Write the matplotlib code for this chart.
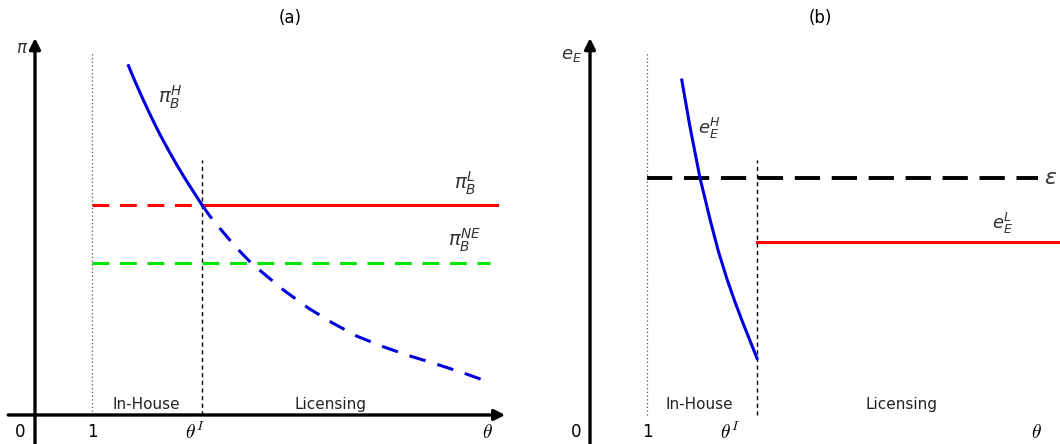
import numpy as np
import matplotlib
matplotlib.use("Agg")
import matplotlib.pyplot as plt

# ---- data (theta on x, profit / effort on y, arbitrary units) ----
theta_one = 1.0
theta_I = 2.93

# panel (a): pi_B^H curve, solid up to theta_I, dashed after
piH_theta_solid = [1.64, 1.75, 1.90, 2.05, 2.19, 2.34, 2.49, 2.63, 2.78, 2.93]
piH_solid = [9.98, 9.55, 9.00, 8.48, 8.02, 7.57, 7.14, 6.76, 6.38, 6.00]
piH_theta_dash = [2.93, 3.07, 3.25, 3.52, 3.80, 4.36, 4.80, 5.23, 5.65, 6.11, 6.55, 6.99, 7.50, 7.98]
piH_dash = [6.00, 5.68, 5.32, 4.80, 4.33, 3.57, 3.05, 2.62, 2.25, 1.95, 1.70, 1.48, 1.21, 0.93]
pi_L = 6.0
pi_NE = 4.34

# panel (b): e_E^H curve, eps level, e_E^L level
eH_theta = [1.61, 1.75, 1.93, 2.11, 2.25, 2.40, 2.55, 2.69, 2.82, 2.93]
eH = [9.57, 8.27, 6.77, 5.56, 4.69, 3.90, 3.20, 2.60, 2.07, 1.62]
eps_level = 6.77
e_L = 4.94

BLUE = '#0000dd'
RED = '#ff0000'
GREEN = '#00e600'
LW = 2.2

fig = plt.figure(figsize=(10.6, 4.44), dpi=100)
ax1 = fig.add_axes([0, 0, 0.5, 1])
ax2 = fig.add_axes([0.5, 0, 0.5, 1])

ax1.set_xlim(-0.614, 8.684)
ax2.set_xlim(-1.053, 8.246)
for ax in (ax1, ax2):
    ax.set_ylim(-0.829, 11.857)
    ax.axis('off')


def draw_axes(ax, x0, x1, ytop):
    arrow = dict(arrowstyle='-|>', lw=2.4, color='black', mutation_scale=16,
                 shrinkA=0, shrinkB=0)
    ax.annotate('', xy=(x1, 0), xytext=(x0, 0), arrowprops=arrow)
    ax.annotate('', xy=(0, ytop), xytext=(0, -1.0), arrowprops=arrow)
    # guide lines at theta = 1 and theta_I
    ax.plot([theta_one, theta_one], [0, 10.37], color='#555555', lw=0.9, linestyle=(0, (1, 2)))
    ax.plot([theta_I, theta_I], [0, 7.29], color='black', lw=1.0, linestyle=(0, (3, 2.5)))


def label(ax, x, y, s, size=13, **kw):
    kw.setdefault('color', '#333333')
    ax.text(x, y, s, fontsize=size, ha=kw.pop('ha', 'center'), va='center', **kw)


# ---- panel (a) ----
draw_axes(ax1, -0.47, 8.25, 10.77)
ax1.plot([theta_one, theta_I], [pi_L, pi_L], color=RED, lw=LW, linestyle=(0, (5.5, 3.5)))
ax1.plot([theta_I, 8.1], [pi_L, pi_L], color=RED, lw=LW)
ax1.plot([theta_one, 7.98], [pi_NE, pi_NE], color=GREEN, lw=LW, linestyle=(0, (5.5, 3.5)))
ax1.plot(piH_theta_solid, piH_solid, color=BLUE, lw=LW, solid_joinstyle='round')
ax1.plot(piH_theta_dash, piH_dash, color=BLUE, lw=LW, linestyle=(0, (5.5, 4)))

label(ax1, -0.23, 10.49, r'$\pi$', 12)
label(ax1, 2.37, 9.09, r'$\pi_B^H$', 14)
label(ax1, 7.54, 6.63, r'$\pi_B^L$', 14)
label(ax1, 7.54, 5.0, r'$\pi_B^{NE}$', 14)
label(ax1, 1.95, 0.31, 'In-House', 11, color='#222222')
label(ax1, 5.18, 0.31, 'Licensing', 11, color='#222222')
label(ax1, -0.26, -0.49, '0', 12, color='black')
label(ax1, 1.0, -0.49, '1', 12, color='black')
label(ax1, 2.81, -0.49, r'$\theta^I$', 14, color='black', math_fontfamily='cm')
label(ax1, 7.93, -0.49, r'$\theta$', 14, color='black', math_fontfamily='cm')
label(ax1, 4.47, 11.34, '(a)', 12, color='black')

# ---- panel (b) ----
draw_axes(ax2, -0.44, 8.3, 10.77)
ax2.plot([theta_one, 7.86], [eps_level, eps_level], color='black', lw=2.8, linestyle=(0, (6.5, 3)))
ax2.plot([theta_I, 8.3], [e_L, e_L], color=RED, lw=LW)
ax2.plot(eH_theta, eH, color=BLUE, lw=LW, solid_joinstyle='round')

label(ax2, -0.32, 10.29, r'$e_E$', 13)
label(ax2, 2.09, 8.2, r'$e_E^H$', 13)
label(ax2, 7.23, 5.46, r'$e_E^L$', 13)
label(ax2, 7.96, 6.77, r'$\varepsilon$', 16, ha='left')
label(ax2, 1.91, 0.31, 'In-House', 11, color='#222222')
label(ax2, 5.47, 0.31, 'Licensing', 11, color='#222222')
label(ax2, -0.25, -0.49, '0', 12, color='black')
label(ax2, 1.0, -0.49, '1', 12, color='black')
label(ax2, 2.46, -0.49, r'$\theta^I$', 14, color='black', math_fontfamily='cm')
label(ax2, 7.84, -0.49, r'$\theta$', 14, color='black', math_fontfamily='cm')
label(ax2, 4.04, 11.34, '(b)', 12, color='black')

fig.savefig('out.png', dpi=100)
